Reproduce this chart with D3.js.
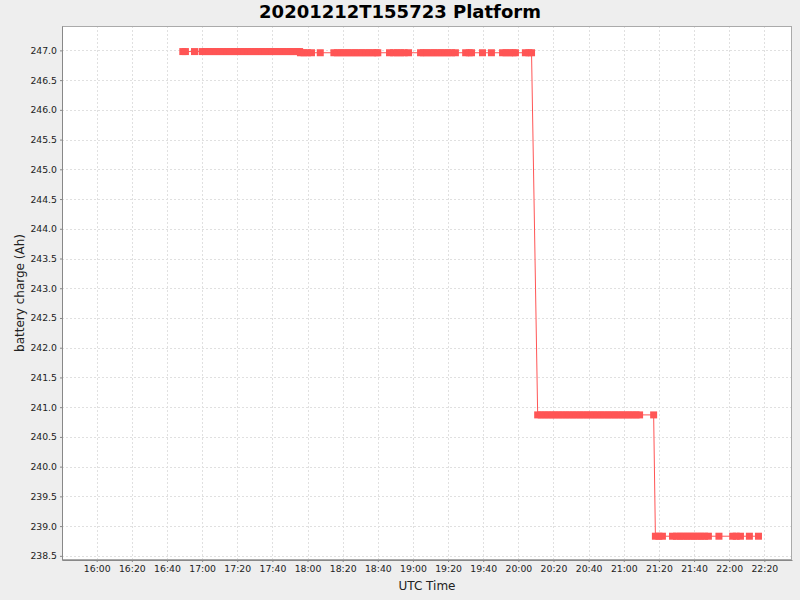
<!DOCTYPE html>
<html>
<head>
<meta charset="utf-8">
<script src="https://cdn.jsdelivr.net/npm/d3@7"></script>
<style>
    body { margin: 0; background: #eeeeee; }
    svg  { display: block; font-family: "DejaVu Sans", sans-serif; }
</style>
</head>
<body>
<div id="chart"></div>
<script>
const WIDTH  = 800;
const HEIGHT = 600;
const MARGIN = { top: 26, right: 8, bottom: 40, left: 62 };

const CHART_DATE  = "2020-12-12";
const CHART_TITLE = "20201212T155723 Platform";

// Battery charge levels (Ah), one per run of readings below
const chargeLevels = [246.98, 246.96, 240.87, 238.83];

// Reading times (UTC) at each charge level
const firstTimes = [
    "16:49:00", "16:50:30", "16:55:40",
    "17:00:00", "17:02:00", "17:04:00", "17:06:00", "17:08:00", "17:10:00", "17:12:00",
    "17:14:00", "17:16:00", "17:18:00", "17:20:00", "17:22:00", "17:24:00", "17:26:00",
    "17:28:00", "17:30:00", "17:32:00", "17:34:00", "17:36:00", "17:38:00", "17:40:00",
    "17:42:00", "17:44:00", "17:46:00", "17:48:00", "17:50:00", "17:52:00", "17:54:00",
    "17:55:30"
];
const secondTimes = [
    "17:56:00", "17:58:00", "18:00:00", "18:02:15",
    "18:07:15",
    "18:15:00", "18:17:00", "18:19:00", "18:21:00", "18:23:00", "18:25:00", "18:27:00",
    "18:29:00", "18:31:00", "18:33:00", "18:35:00", "18:37:00", "18:39:00", "18:40:00",
    "18:46:40", "18:49:00", "18:51:00", "18:53:00", "18:55:00", "18:57:30",
    "19:04:20", "19:06:00", "19:08:00", "19:10:00", "19:12:00", "19:14:00", "19:16:00",
    "19:18:00", "19:20:00", "19:22:00", "19:24:10",
    "19:30:00", "19:32:00", "19:33:20",
    "19:39:35",
    "19:44:40",
    "19:51:00", "19:53:00", "19:55:00", "19:57:00", "19:58:20",
    "20:04:00", "20:06:00", "20:07:30"
];
const thirdTimes = [
    "20:11:00", "20:13:00", "20:15:00", "20:17:00", "20:19:00", "20:21:00", "20:23:00",
    "20:25:00", "20:27:00", "20:29:00", "20:31:00", "20:33:00", "20:35:00", "20:37:00",
    "20:39:00", "20:41:00", "20:43:00", "20:45:00", "20:47:00", "20:49:00", "20:51:00",
    "20:53:00", "20:55:00", "20:57:00", "20:59:00", "21:01:00", "21:03:00", "21:05:00",
    "21:07:00", "21:09:00",
    "21:17:00"
];
const fourthTimes = [
    "21:18:00", "21:20:00", "21:22:00",
    "21:27:45", "21:30:00", "21:32:00", "21:34:00", "21:36:00", "21:38:00", "21:40:00",
    "21:42:00", "21:44:00", "21:46:00", "21:48:10",
    "21:54:10",
    "22:02:00", "22:04:00", "22:06:25",
    "22:11:30",
    "22:16:40"
];

// Axis ranges and ticks
const timeRange   = ["15:40:15", "22:35:45"];
const chargeRange = [238.43, 247.41];
const xTickLabels = [
    "16:00", "16:20", "16:40", "17:00", "17:20", "17:40", "18:00", "18:20", "18:40", "19:00",
    "19:20", "19:40", "20:00", "20:20", "20:40", "21:00", "21:20", "21:40", "22:00", "22:20"
];
const yTickValues = [
    238.5, 239.0, 239.5, 240.0, 240.5, 241.0, 241.5, 242.0, 242.5,
    243.0, 243.5, 244.0, 244.5, 245.0, 245.5, 246.0, 246.5, 247.0
];

const SERIES_COLOR = "#ff5555";
const GRID_COLOR   = "#e0e0e0";
const TEXT_COLOR   = "#222222";
const MARKER_SIZE  = 7;

const parseTime = d3.utcParse("%Y-%m-%d %H:%M:%S");
const toDate    = (t) => parseTime(CHART_DATE + " " + (t.length === 5 ? t + ":00" : t));

/**
 * Builds the list of readings from the time runs and their charge levels.
 *
 * @returns {Array}
 */
function buildReadings()
{
    let runs = [firstTimes, secondTimes, thirdTimes, fourthTimes];

    return runs.flatMap((times, i) => times.map((t) => ({ time: toDate(t), charge: chargeLevels[i] })));
}

/**
 * Draws the chart.
 */
function draw()
{
    let readings = buildReadings();

    let plotW = WIDTH - MARGIN.left - MARGIN.right;
    let plotH = HEIGHT - MARGIN.top - MARGIN.bottom;

    let x = d3.scaleUtc()
        .domain(timeRange.map(toDate))
        .range([MARGIN.left, MARGIN.left + plotW]);

    let y = d3.scaleLinear()
        .domain(chargeRange)
        .range([MARGIN.top + plotH, MARGIN.top]);

    let svg = d3.select("#chart")
        .append("svg")
        .attr("width", WIDTH)
        .attr("height", HEIGHT);

    svg.append("rect")
        .attr("width", WIDTH)
        .attr("height", HEIGHT)
        .attr("fill", "#eeeeee");

    // Plot background
    svg.append("rect")
        .attr("x", MARGIN.left)
        .attr("y", MARGIN.top)
        .attr("width", plotW)
        .attr("height", plotH)
        .attr("fill", "#ffffff");

    // Grid lines
    let grid = svg.append("g")
        .attr("stroke", GRID_COLOR)
        .attr("stroke-width", 1)
        .attr("stroke-dasharray", "2,2")
        .attr("shape-rendering", "crispEdges");

    let xTicks = xTickLabels.map(toDate);

    grid.selectAll("line.v")
        .data(xTicks)
        .join("line")
        .attr("x1", (d) => Math.round(x(d)) + 0.5)
        .attr("x2", (d) => Math.round(x(d)) + 0.5)
        .attr("y1", MARGIN.top)
        .attr("y2", MARGIN.top + plotH);

    grid.selectAll("line.h")
        .data(yTickValues)
        .join("line")
        .attr("x1", MARGIN.left)
        .attr("x2", MARGIN.left + plotW)
        .attr("y1", (d) => Math.round(y(d)) + 0.5)
        .attr("y2", (d) => Math.round(y(d)) + 0.5);

    // Plot outline
    svg.append("rect")
        .attr("x", MARGIN.left + 0.5)
        .attr("y", MARGIN.top + 0.5)
        .attr("width", plotW - 1)
        .attr("height", plotH - 1)
        .attr("fill", "none")
        .attr("stroke", "#aaaaaa")
        .attr("shape-rendering", "crispEdges");

    // Series
    svg.append("clipPath")
        .attr("id", "plot-clip")
        .append("rect")
        .attr("x", MARGIN.left)
        .attr("y", MARGIN.top)
        .attr("width", plotW)
        .attr("height", plotH);

    let series = svg.append("g")
        .attr("clip-path", "url(#plot-clip)");

    let line = d3.line()
        .x((d) => x(d.time))
        .y((d) => y(d.charge));

    series.append("path")
        .datum(readings)
        .attr("fill", "none")
        .attr("stroke", SERIES_COLOR)
        .attr("stroke-width", 1)
        .attr("d", line);

    series.selectAll("rect")
        .data(readings)
        .join("rect")
        .attr("x", (d) => x(d.time) - MARKER_SIZE / 2)
        .attr("y", (d) => y(d.charge) - MARKER_SIZE / 2)
        .attr("width", MARKER_SIZE)
        .attr("height", MARKER_SIZE)
        .attr("fill", SERIES_COLOR);

    // Axes
    let xAxis = d3.axisBottom(x)
        .tickValues(xTicks)
        .tickFormat(d3.utcFormat("%H:%M"))
        .tickSizeInner(2)
        .tickSizeOuter(0)
        .tickPadding(3);

    let yAxis = d3.axisLeft(y)
        .tickValues(yTickValues)
        .tickFormat(d3.format(".1f"))
        .tickSizeInner(2)
        .tickSizeOuter(0)
        .tickPadding(3);

    let gx = svg.append("g")
        .attr("transform", "translate(0," + (MARGIN.top + plotH) + ")")
        .call(xAxis);

    let gy = svg.append("g")
        .attr("transform", "translate(" + MARGIN.left + ",0)")
        .call(yAxis);

    [gx, gy].forEach((g) => {
        g.select(".domain").attr("stroke", "#888888");
        g.selectAll(".tick line").attr("stroke", "#888888");
        g.selectAll(".tick text")
            .attr("fill", TEXT_COLOR)
            .style("font-family", "'DejaVu Sans', sans-serif")
            .style("font-size", "9.3px");
    });

    // Title and axis labels
    svg.append("text")
        .attr("x", WIDTH / 2)
        .attr("y", 18)
        .attr("text-anchor", "middle")
        .attr("font-size", 18)
        .attr("font-weight", "bold")
        .attr("fill", "#000000")
        .text(CHART_TITLE);

    svg.append("text")
        .attr("x", MARGIN.left + plotW / 2)
        .attr("y", 590)
        .attr("text-anchor", "middle")
        .attr("font-size", 12)
        .attr("fill", TEXT_COLOR)
        .text("UTC Time");

    svg.append("text")
        .attr("transform", "translate(24," + (MARGIN.top + plotH / 2) + ") rotate(-90)")
        .attr("text-anchor", "middle")
        .attr("font-size", 12)
        .attr("fill", TEXT_COLOR)
        .text("battery charge (Ah)");
}

draw();
</script>
</body>
</html>
